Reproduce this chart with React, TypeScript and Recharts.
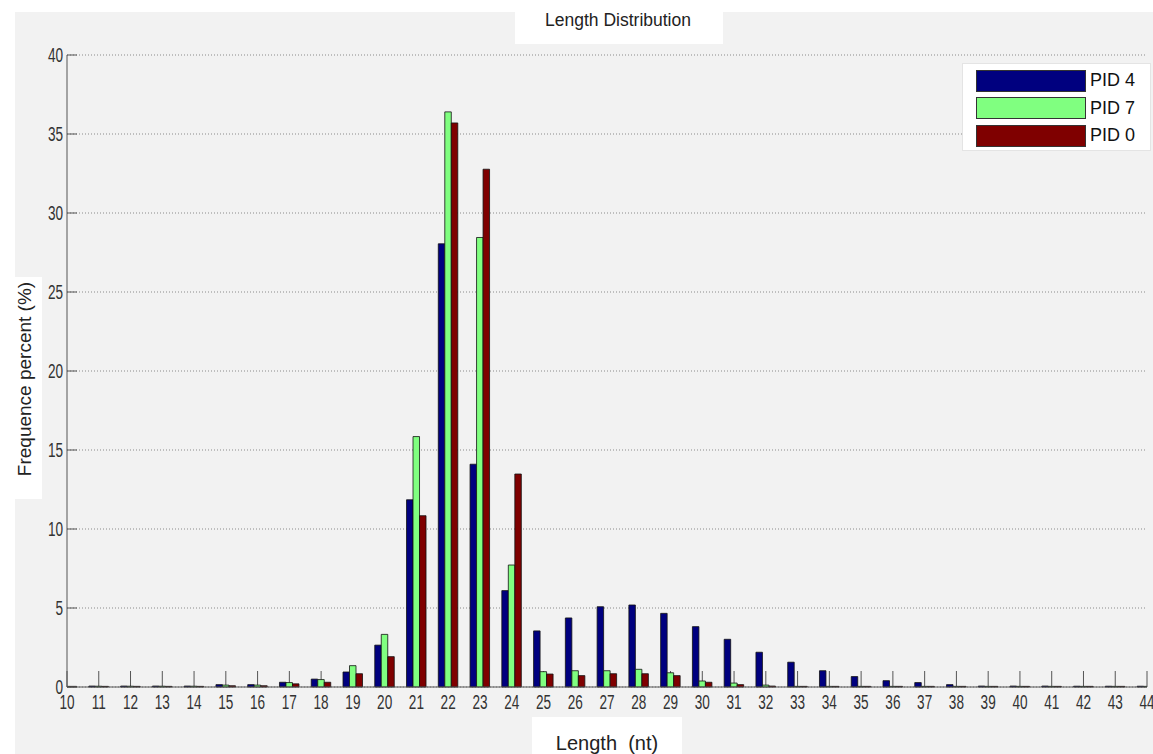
import { BarChart, Bar, XAxis, YAxis, CartesianGrid } from "recharts";

const lengths = [
  10, 11, 12, 13, 14, 15, 16, 17, 18, 19, 20, 21, 22, 23, 24, 25, 26, 27, 28,
  29, 30, 31, 32, 33, 34, 35, 36, 37, 38, 39, 40, 41, 42, 43, 44,
];

// PID 4 (blue)
const pid4 = [
  0.05, 0.06, 0.06, 0.06, 0.06, 0.15, 0.15, 0.3, 0.5, 0.95, 2.65, 11.85, 28.05,
  14.1, 6.1, 3.55, 4.37, 5.08, 5.19, 4.66, 3.82, 3.02, 2.2, 1.57, 1.03, 0.66,
  0.4, 0.28, 0.15, 0.06, 0.06, 0.06, 0.05, 0.05, 0.05,
];

// PID 7 (green)
const pid7 = [
  0.04, 0.05, 0.05, 0.05, 0.05, 0.12, 0.12, 0.28, 0.47, 1.35, 3.33, 15.85, 36.4,
  28.45, 7.72, 0.97, 1.03, 1.03, 1.12, 0.9, 0.38, 0.25, 0.12, 0.04, 0.04, 0.04,
  0.04, 0.04, 0.04, 0.04, 0.04, 0.04, 0.04, 0.04, 0.04,
];

// PID 0 (red)
const pid0 = [
  0.04, 0.04, 0.04, 0.04, 0.04, 0.08, 0.08, 0.2, 0.3, 0.84, 1.92, 10.84, 35.7,
  32.77, 13.48, 0.82, 0.72, 0.84, 0.84, 0.72, 0.3, 0.15, 0.06, 0.04, 0.04, 0.04,
  0.04, 0.04, 0.04, 0.04, 0.04, 0.04, 0.04, 0.04, 0.04,
];

const yTicks = [0, 5, 10, 15, 20, 25, 30, 35, 40];

const series = [
  { key: "pid4", name: "PID 4", color: "#00007f" },
  { key: "pid7", name: "PID 7", color: "#80ff80" },
  { key: "pid0", name: "PID 0", color: "#7f0000" },
];

const data = lengths.map((len, i) => ({
  len,
  pid4: pid4[i],
  pid7: pid7[i],
  pid0: pid0[i],
}));

const sans = "'Liberation Sans', Arial, sans-serif";
const axisColor = "#555";

// matlab-ish condensed tick labels
const makeTick = (anchor: string, dy: string) => (props: any) => {
  const { x, y, payload } = props;
  return (
    <text
      x={0}
      y={0}
      dy={dy}
      transform={`translate(${x},${y}) scale(0.68,1)`}
      textAnchor={anchor}
      fill="#333"
      fontSize={20}
      fontFamily={sans}
    >
      {payload.value}
    </text>
  );
};

export default function App() {
  return (
    <div
      style={{
        position: "absolute",
        left: 0,
        top: 0,
        width: 1153,
        height: 754,
        background: "#f2f2f2",
        overflow: "hidden",
        fontFamily: sans,
      }}
    >
      {/* white patches behind the labels */}
      <div style={{ position: "absolute", left: 0, top: 0, width: 1153, height: 12, background: "#fff" }} />
      <div style={{ position: "absolute", left: 0, top: 0, width: 15, height: 754, background: "#fff" }} />
      <div style={{ position: "absolute", left: 515, top: 0, width: 208, height: 44, background: "#fff" }} />
      <div style={{ position: "absolute", left: 532, top: 717, width: 150, height: 37, background: "#fff" }} />
      <div style={{ position: "absolute", left: 0, top: 277, width: 42, height: 222, background: "#fff" }} />

      <div
        style={{
          position: "absolute",
          left: 0,
          top: 10,
          width: 1236,
          textAlign: "center",
          fontSize: 17.5,
          color: "#222",
        }}
      >
        Length Distribution
      </div>

      <div style={{ position: "absolute", left: 0, top: 0 }}>
        <BarChart
          width={1153}
          height={754}
          data={data}
          margin={{ top: 55, right: 6, bottom: 0, left: 0 }}
          barGap={0}
        >
          <CartesianGrid
            vertical={false}
            stroke="#8a8a8a"
            strokeDasharray="1 2"
          />
          {/* inward x ticks, kept behind the bars */}
          <CartesianGrid
            horizontal={false}
            y={671}
            height={16}
            stroke={axisColor}
          />
          <XAxis
            dataKey="len"
            type="number"
            domain={[10, 44]}
            ticks={lengths}
            interval={0}
            allowDataOverflow
            height={67}
            tickSize={-16}
            tickMargin={24}
            tickLine={false}
            stroke={axisColor}
            tick={makeTick("middle", "0.71em")}
            label={{
              value: "Length\u00a0\u00a0(nt)",
              position: "insideBottom",
              offset: 4,
              fill: "#222",
              fontSize: 20,
              fontFamily: sans,
            }}
          />
          <YAxis
            type="number"
            domain={[0, 40]}
            ticks={yTicks}
            width={67}
            tickSize={-10}
            tickMargin={14}
            stroke={axisColor}
            tick={makeTick("end", "0.355em")}
            label={{
              position: "insideLeft",
              content: () => (
                <text
                  x={24}
                  y={379}
                  transform="rotate(-90 24 379)"
                  textAnchor="middle"
                  dominantBaseline="central"
                  fill="#222"
                  fontSize={19}
                  fontFamily={sans}
                >
                  Frequence percent (%)
                </text>
              ),
            }}
          />
          {series.map((s) => (
            <Bar
              key={s.key}
              dataKey={s.key}
              name={s.name}
              fill={s.color}
              stroke="#111"
              strokeWidth={0.8}
              barSize={6.5}
              isAnimationActive={false}
            />
          ))}
        </BarChart>
      </div>

      <div
        style={{
          position: "absolute",
          left: 962,
          top: 63,
          width: 189,
          height: 88,
          background: "#fff",
          border: "1px solid #e4e4e4",
          boxSizing: "border-box",
        }}
      >
        {series.map((s, i) => (
          <div
            key={s.key}
            style={{
              position: "absolute",
              left: 13,
              top: 5 + i * 27.5,
              display: "flex",
              alignItems: "center",
              height: 23,
            }}
          >
            <div
              style={{
                width: 110,
                height: 22,
                background: s.color,
                border: "1.5px solid #333",
                boxSizing: "border-box",
              }}
            />
            <span style={{ marginLeft: 4, fontSize: 18, color: "#111" }}>
              {s.name}
            </span>
          </div>
        ))}
      </div>
    </div>
  );
}
